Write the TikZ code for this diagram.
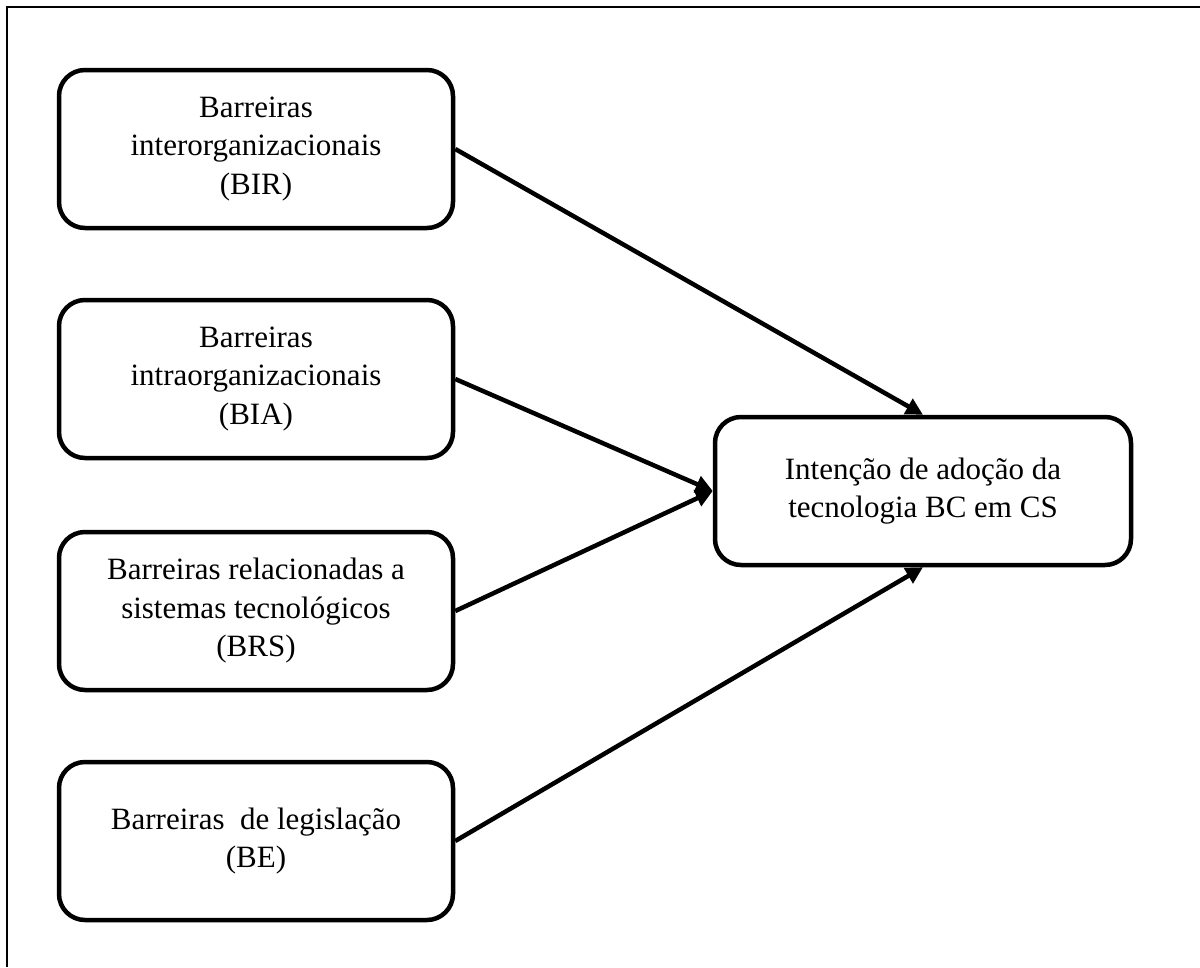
\documentclass[tikz,border=0pt]{standalone}
\usepackage{fontspec}
\setmainfont{Liberation Serif}
\usetikzlibrary{arrows.meta}
\begin{document}
\begin{tikzpicture}[x=1pt,y=-1pt,
  box/.style={draw, line width=4.5pt, rounded corners=26pt, align=center,
    inner sep=0pt, font=\fontsize{31}{38.5}\selectfont},
  lbox/.style={box, minimum width=394pt, minimum height=158pt},
  conn/.style={line width=4.5pt, -{Triangle[length=17pt,width=17pt]}}]
\useasboundingbox (0,0) rectangle (1200,967);
\draw[line width=2pt] (7,967) -- (7,7) -- (1200,7);
\node[lbox] (b1) at (256,149) {Barreiras\\interorganizacionais\\(BIR)};
\node[lbox] (b2) at (256,379) {Barreiras\\intraorganizacionais\\(BIA)};
\node[lbox] (b3) at (256,611) {Barreiras relacionadas a\\sistemas tecnológicos\\(BRS)};
\node[lbox] (b4) at (256,841) {Barreiras\ \ de legislação\\(BE)};
\node[box, minimum width=416pt, minimum height=148pt] (t) at (923,491) {Intenção de adoção da\\tecnologia BC em CS};
\draw[conn] (b1.east) -- (t.north);
\draw[conn] (b2.east) -- (t.west);
\draw[conn] (b3.east) -- (t.west);
\draw[conn] (b4.east) -- (t.south);
\end{tikzpicture}
\end{document}
